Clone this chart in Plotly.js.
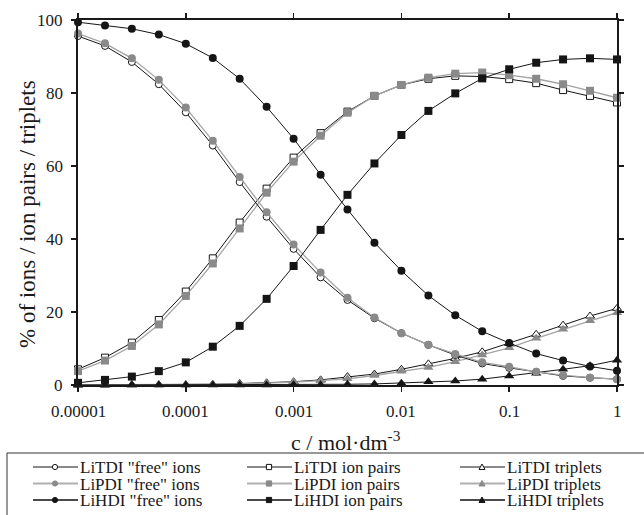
<!DOCTYPE html>
<html>
<head>
<meta charset="utf-8">
<script src="https://cdn.plot.ly/plotly-3.0.1.min.js"></script>
<style>html,body{margin:0;padding:0;background:#fff;}</style>
</head>
<body>
<div id="chart" style="width:644px;height:515px;"></div>
<script>
// ---- data ----
const conc = [0.00001, 0.0000178, 0.0000316, 0.0000562, 0.0001, 0.000178, 0.000316, 0.000562,
              0.001, 0.00178, 0.00316, 0.00562, 0.01, 0.0178, 0.0316, 0.0562, 0.1, 0.178, 0.316, 0.562, 1];

const tdiFree    = [95.6, 92.9, 88.5, 82.4, 74.7, 65.6, 55.6, 46.1, 37.3, 29.5, 23.3, 18.3, 14.2, 11.0, 8.2, 5.9, 4.7, 3.6, 2.5, 2.0, 1.6];
const pdiFree    = [96.3, 93.6, 89.5, 83.6, 76.0, 66.9, 57.0, 47.3, 38.5, 30.8, 23.9, 18.5, 14.2, 11.0, 8.5, 6.2, 5.0, 3.6, 2.7, 2.0, 1.6];
const hdiFree    = [99.4, 98.5, 97.6, 96.0, 93.5, 89.6, 83.9, 76.2, 67.5, 57.6, 48.1, 39.0, 31.3, 24.5, 19.1, 14.7, 11.5, 8.6, 6.7, 5.1, 3.9];

const tdiPairs   = [4.3, 7.5, 11.6, 17.8, 25.6, 34.7, 44.5, 53.8, 62.3, 69.0, 74.9, 79.2, 82.2, 83.9, 84.7, 84.5, 83.8, 82.7, 80.8, 79.2, 77.4];
const pdiPairs   = [3.8, 6.7, 10.7, 16.6, 24.4, 33.3, 42.9, 52.7, 61.2, 68.3, 74.6, 79.2, 82.2, 84.2, 85.3, 85.6, 84.9, 83.9, 82.4, 80.6, 78.7];
const hdiPairs   = [0.6, 1.4, 2.3, 3.8, 6.2, 10.5, 16.2, 23.6, 32.6, 42.5, 52.1, 60.7, 68.5, 75.1, 79.9, 84.0, 86.5, 88.3, 89.2, 89.5, 89.2];

const tdiTrip    = [0.0, 0.0, 0.1, 0.1, 0.1, 0.2, 0.4, 0.6, 0.9, 1.4, 2.3, 3.0, 4.3, 5.8, 7.3, 9.1, 11.4, 13.9, 16.4, 18.9, 21.0];
const pdiTrip    = [0.0, 0.0, 0.0, 0.1, 0.1, 0.2, 0.3, 0.5, 0.8, 1.2, 1.7, 2.6, 3.8, 4.8, 6.4, 8.2, 10.2, 12.8, 15.3, 17.6, 19.8];
const hdiTrip    = [0.0, 0.0, 0.0, 0.0, 0.0, 0.0, 0.0, 0.0, 0.1, 0.1, 0.2, 0.3, 0.5, 0.9, 1.1, 1.6, 2.5, 3.2, 4.3, 5.3, 6.8];

const xTickVals  = [0.00001, 0.0001, 0.001, 0.01, 0.1, 1];
const xTickText  = ["0.00001", "0.0001", "0.001", "0.01", "0.1", "1"];
const yTickVals  = [0, 20, 40, 60, 80, 100];
const yTickText  = ["0", "20", "40", "60", "80", "100"];
const xTitle     = 'c / mol·dm<sup>-3</sup>';
const yTitle     = '% of ions / ion pairs / triplets';

const names = {
  tdiFree: 'LiTDI "free" ions', pdiFree: 'LiPDI "free" ions', hdiFree: 'LiHDI "free" ions',
  tdiPairs: 'LiTDI ion pairs',  pdiPairs: 'LiPDI ion pairs',  hdiPairs: 'LiHDI ion pairs',
  tdiTrip: 'LiTDI triplets',    pdiTrip: 'LiPDI triplets',    hdiTrip: 'LiHDI triplets'
};

// ---- styles ----
const FONT = '"Liberation Serif", serif';
const TXT = '#1a1a1a';
const BLACK = '#151515', GRAYM = '#8a8a8a', GRAYL = '#a4a4a4';
const styleT = {line: {color: BLACK, width: 1}, fill: '#ffffff', mline: {color: BLACK, width: 1}};
const styleP = {line: {color: GRAYL, width: 1.3}, fill: GRAYM, mline: {color: GRAYM, width: 0}};
const styleH = {line: {color: BLACK, width: 1}, fill: BLACK, mline: {color: BLACK, width: 0}};

function tr(y, st, sym, size, name) {
  return {
    x: conc, y: y, type: 'scatter', mode: 'lines+markers', name: name, showlegend: false,
    cliponaxis: false,
    line: st.line,
    marker: {symbol: sym, size: size, color: st.fill, line: st.mline}
  };
}

const data = [
  tr(tdiTrip, styleT, 'triangle-up', 8, names.tdiTrip),
  tr(pdiTrip, styleP, 'triangle-up', 9, names.pdiTrip),
  tr(hdiTrip, styleH, 'triangle-up', 9, names.hdiTrip),
  tr(tdiPairs, styleT, 'square', 7, names.tdiPairs),
  tr(pdiPairs, styleP, 'square', 8, names.pdiPairs),
  tr(tdiFree, styleT, 'circle', 7, names.tdiFree),
  tr(pdiFree, styleP, 'circle', 8, names.pdiFree),
  tr(hdiPairs, styleH, 'square', 8, names.hdiPairs),
  tr(hdiFree, styleH, 'circle', 8, names.hdiFree)
];

// ---- layout geometry ----
const W = 644, H = 515, ML = 78, MR = 27, MT = 20, MB = 130;
const PW = W - ML - MR, PH = H - MT - MB;
const px = p => (p - ML) / PW;
const py = p => (H - MB - p) / PH;

const shapes = [];
const annotations = [];

// tick labels (serif, positioned by the axes' own scales)
xTickVals.forEach((v, i) => {
  annotations.push({xref: 'x', yref: 'paper', x: Math.log10(v), y: py(411), xanchor: 'center', yanchor: 'middle',
                    text: xTickText[i], showarrow: false, borderpad: 0, font: {family: FONT, size: 17, color: TXT}});
});
yTickVals.forEach((v, i) => {
  annotations.push({xref: 'paper', yref: 'y', x: px(64), y: v, xanchor: 'right', yanchor: 'middle',
                    text: yTickText[i], showarrow: false, borderpad: 0, font: {family: FONT, size: 17, color: TXT}});
});
// axis titles
annotations.push({xref: 'paper', yref: 'paper', x: px(290), y: py(441), xanchor: 'left', yanchor: 'middle',
                  text: xTitle, showarrow: false, borderpad: 0, font: {family: FONT, size: 22, color: TXT}});
annotations.push({xref: 'paper', yref: 'paper', x: px(27), y: py(214), xanchor: 'center', yanchor: 'middle',
                  textangle: -90, text: yTitle, showarrow: false, borderpad: 0, font: {family: FONT, size: 23, color: TXT}});

// legend box
shapes.push({type: 'rect', xref: 'paper', yref: 'paper', x0: px(7), x1: px(720), y0: py(453), y1: py(540),
             line: {color: '#333', width: 1}, fillcolor: 'rgba(0,0,0,0)'});

const legCols = [33, 247, 460];
const legRows = [467, 483.5, 500];
const legendDef = [
  [names.tdiFree, 'circle', styleT, 0, 0], [names.pdiFree, 'circle', styleP, 0, 1], [names.hdiFree, 'circle', styleH, 0, 2],
  [names.tdiPairs, 'square', styleT, 1, 0], [names.pdiPairs, 'square', styleP, 1, 1], [names.hdiPairs, 'square', styleH, 1, 2],
  [names.tdiTrip, 'triangle', styleT, 2, 0], [names.pdiTrip, 'triangle', styleP, 2, 1], [names.hdiTrip, 'triangle', styleH, 2, 2]
];
const legLineStyle = [{color: BLACK, width: 1}, {color: '#b0b0b0', width: 2}, {color: '#4a4a4a', width: 2}];
legendDef.forEach(([label, sym, st, c, r]) => {
  const x0 = legCols[c], x1 = x0 + 45, cx = x0 + 22, cy = legRows[r];
  shapes.push({type: 'line', xref: 'paper', yref: 'paper', x0: px(x0), x1: px(x1), y0: py(cy), y1: py(cy),
               line: legLineStyle[r]});
  const s = 2.6;
  const mfill = st.fill;
  const mline = {color: r === 1 ? GRAYM : BLACK, width: 1};
  if (sym === 'circle') {
    shapes.push({type: 'circle', xref: 'paper', yref: 'paper', x0: px(cx - s), x1: px(cx + s), y0: py(cy - s), y1: py(cy + s),
                 fillcolor: mfill, line: mline});
  } else if (sym === 'square') {
    shapes.push({type: 'rect', xref: 'paper', yref: 'paper', x0: px(cx - s), x1: px(cx + s), y0: py(cy - s), y1: py(cy + s),
                 fillcolor: mfill, line: mline});
  } else {
    const p = `M ${px(cx - 3)} ${py(cy + 2.5)} L ${px(cx + 3)} ${py(cy + 2.5)} L ${px(cx)} ${py(cy - 3)} Z`;
    shapes.push({type: 'path', xref: 'paper', yref: 'paper', path: p, fillcolor: mfill, line: mline});
  }
  annotations.push({xref: 'paper', yref: 'paper', x: px(x1 + 1), y: py(cy + 0.5), xanchor: 'left', yanchor: 'middle',
                    text: label, showarrow: false, borderpad: 0, font: {family: FONT, size: 17, color: TXT}});
});

const axisCommon = {
  showline: true, linewidth: 2, linecolor: '#1a1a1a', mirror: 'ticks',
  ticks: 'outside', ticklen: 5, tickwidth: 1.5, tickcolor: '#1a1a1a',
  showgrid: false, zeroline: false, showticklabels: false
};

const layout = {
  width: W, height: H,
  margin: {l: ML, r: MR, t: MT, b: MB},
  paper_bgcolor: '#ffffff', plot_bgcolor: '#ffffff',
  font: {family: FONT, size: 17, color: TXT},
  showlegend: false,
  xaxis: Object.assign({}, axisCommon, {type: 'log', range: [-5, 0], tickvals: xTickVals}),
  yaxis: Object.assign({}, axisCommon, {range: [0, 100], tickvals: yTickVals}),
  shapes: shapes,
  annotations: annotations
};

Plotly.newPlot('chart', data, layout, {displayModeBar: false, staticPlot: true});
</script>
</body>
</html>
